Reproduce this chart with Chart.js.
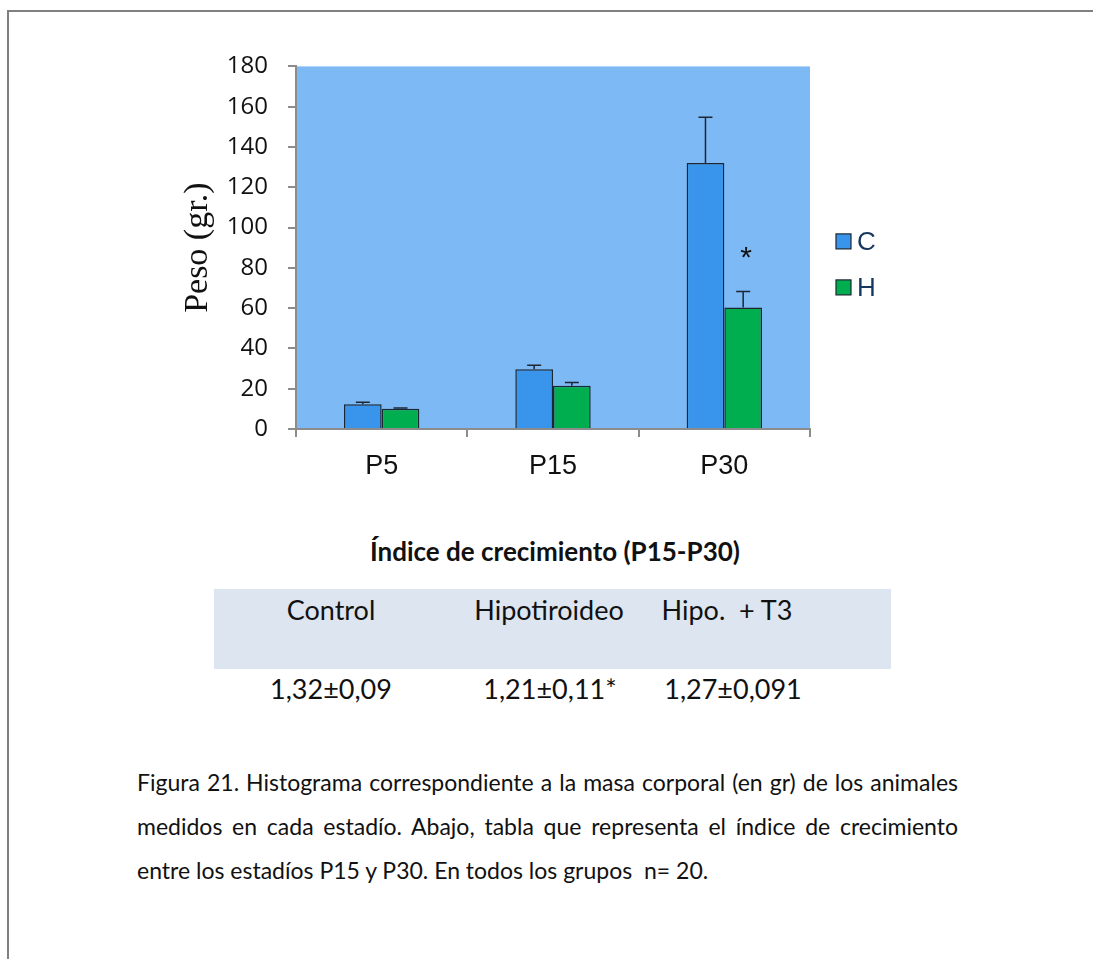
<!DOCTYPE html>
<html>
<head>
<meta charset="utf-8">
<script src="https://cdn.jsdelivr.net/npm/chart.js@4"></script>
<style>
  html, body { margin: 0; padding: 0; background: #fff; }
  body { width: 1093px; height: 959px; position: relative; overflow: hidden; }
  #frame { position: absolute; left: 7px; top: 10px; width: 1200px; height: 1100px;
           border-top: 2px solid #808080; border-left: 2px solid #808080; }
  #wrap { position: absolute; left: 140px; top: 32px; width: 780px; height: 468px; }
  .c { position: absolute; transform: translate(-50%, -50%); white-space: nowrap;
       font-family: Lato, sans-serif; color: #111; }
  #title { font-weight: bold; font-size: 26px; }
  .cell { font-size: 27px; }
  #thead { position: absolute; left: 214px; top: 589px; width: 677px; height: 80px; background: #dce5f0; }
  #caption { position: absolute; left: 137px; top: 760px; width: 821px;
             font-family: Lato, sans-serif; font-size: 23px; color: #111; }
  #caption div { height: 44px; line-height: 44px; white-space: nowrap; }
  #caption .j { text-align: justify; text-align-last: justify; }
</style>
</head>
<body>
<div id="frame"></div>
<div id="wrap"><canvas id="myChart"></canvas></div>

<div class="c" id="title" style="left:555px; top:551px;">Índice de crecimiento (P15-P30)</div>
<div id="thead"></div>
<div class="c cell" style="left:331px; top:609px;">Control</div>
<div class="c cell" style="left:549px; top:609px;">Hipotiroideo</div>
<div class="c cell" style="left:727px; top:609px;">Hipo.&nbsp; + T3</div>
<div class="c cell" style="left:331px; top:688px;">1,32±0,09</div>
<div class="c cell" style="left:550px; top:688px;">1,21±0,11*</div>
<div class="c cell" style="left:733px; top:688px;">1,27±0,091</div>

<div id="caption">
  <div class="j">Figura 21. Histograma correspondiente a la masa corporal (en gr) de los animales</div>
  <div class="j">medidos en cada estadío. Abajo, tabla que representa el índice de crecimiento</div>
  <div>entre los estadíos P15 y P30. En todos los grupos&nbsp; n= 20.</div>
</div>

<script>
// Data
const categories = ['P5', 'P15', 'P30'];
const seriesNames = ['C', 'H'];
const valuesC = [12.3, 29.6, 132];
const valuesH = [10, 21.5, 60.3];
const errorsC = [1, 2, 22.8];
const errorsH = [0.4, 1.6, 8];
const marksH = ['', '', '*'];

const colors = ['#3895eb', '#00ae50'];
const edge = '#1c2733';
const axisGray = '#8c8c8c';

// plot background (blue panel)
const plotBg = {
  id: 'plotBg',
  beforeDraw(chart) {
    const a = chart.chartArea;
    const ctx = chart.ctx;
    ctx.save();
    ctx.fillStyle = '#7db9f5';
    ctx.fillRect(a.left, a.top, a.right - a.left, a.bottom - a.top);
    ctx.restore();
  }
};

// upper whiskers + significance marks
const errorBars = {
  id: 'errorBars',
  afterDatasetsDraw(chart) {
    const ctx = chart.ctx;
    const y = chart.scales.y;
    const errs = [errorsC, errorsH];
    const marks = [['', '', ''], marksH];
    ctx.save();
    chart.data.datasets.forEach((ds, d) => {
      chart.getDatasetMeta(d).data.forEach((bar, i) => {
        const top = y.getPixelForValue(ds.data[i] + errs[d][i]);
        ctx.strokeStyle = edge;
        ctx.lineWidth = 1.5;
        ctx.beginPath();
        ctx.moveTo(bar.x, bar.y);
        ctx.lineTo(bar.x, top);
        ctx.moveTo(bar.x - 7, top);
        ctx.lineTo(bar.x + 7, top);
        ctx.stroke();
        if (marks[d][i]) {
          ctx.fillStyle = '#111';
          ctx.font = '30px "Liberation Sans"';
          ctx.textAlign = 'center';
          ctx.textBaseline = 'middle';
          ctx.fillText(marks[d][i], bar.x + 3, top - 33);
        }
      });
    });
    ctx.restore();
  }
};

// legend to the right of the panel
const sideLegend = {
  id: 'sideLegend',
  afterDraw(chart) {
    const ctx = chart.ctx;
    const a = chart.chartArea;
    ctx.save();
    chart.data.datasets.forEach((ds, d) => {
      const cy = a.top + 175 + d * 46;
      const x = a.right + 26;
      ctx.fillStyle = ds.backgroundColor;
      ctx.fillRect(x, cy - 7.5, 15, 15);
      ctx.strokeStyle = edge;
      ctx.lineWidth = 1.2;
      ctx.strokeRect(x, cy - 7.5, 15, 15);
      ctx.fillStyle = '#17375e';
      ctx.font = '26px "Liberation Sans"';
      ctx.textBaseline = 'middle';
      ctx.textAlign = 'left';
      ctx.fillText(ds.label, x + 21, cy + 1);
    });
    ctx.restore();
  }
};

const data = {
  labels: categories,
  datasets: [
    { label: seriesNames[0], data: valuesC, backgroundColor: colors[0], borderColor: edge, borderWidth: 1.5 },
    { label: seriesNames[1], data: valuesH, backgroundColor: colors[1], borderColor: edge, borderWidth: 1.5 }
  ]
};

const config = {
  type: 'bar',
  data: data,
  options: {
    responsive: true,
    maintainAspectRatio: false,
    animation: false,
    layout: { padding: { top: 18, right: 110, bottom: 0, left: 0 } },
    datasets: { bar: { categoryPercentage: 0.44, barPercentage: 1.0 } },
    plugins: { legend: { display: false }, tooltip: { enabled: false } },
    scales: {
      x: {
        afterFit(s) { s.height = 71; },
        grid: { offset: true, drawOnChartArea: false, drawTicks: true, tickLength: 8, color: axisGray, lineWidth: 2 },
        border: { color: axisGray, width: 2 },
        ticks: { padding: 13, color: '#111', font: { family: 'Liberation Sans', size: 27 } }
      },
      y: {
        min: 0,
        max: 180,
        afterFit(s) { s.width = 156; },
        grid: { drawOnChartArea: false, drawTicks: true, tickLength: 8, color: axisGray, lineWidth: 2 },
        border: { color: axisGray, width: 2 },
        ticks: { stepSize: 20, padding: 20, color: '#111', font: { family: 'Open Sans', size: 24 } },
        title: {
          display: true,
          text: 'Peso (gr.)',
          color: '#111',
          font: { family: 'Liberation Serif', size: 34 },
          padding: { top: 38, bottom: 0 }
        }
      }
    }
  },
  plugins: [plotBg, errorBars, sideLegend]
};

const myChart = new Chart(document.getElementById('myChart'), config);
</script>
</body>
</html>
